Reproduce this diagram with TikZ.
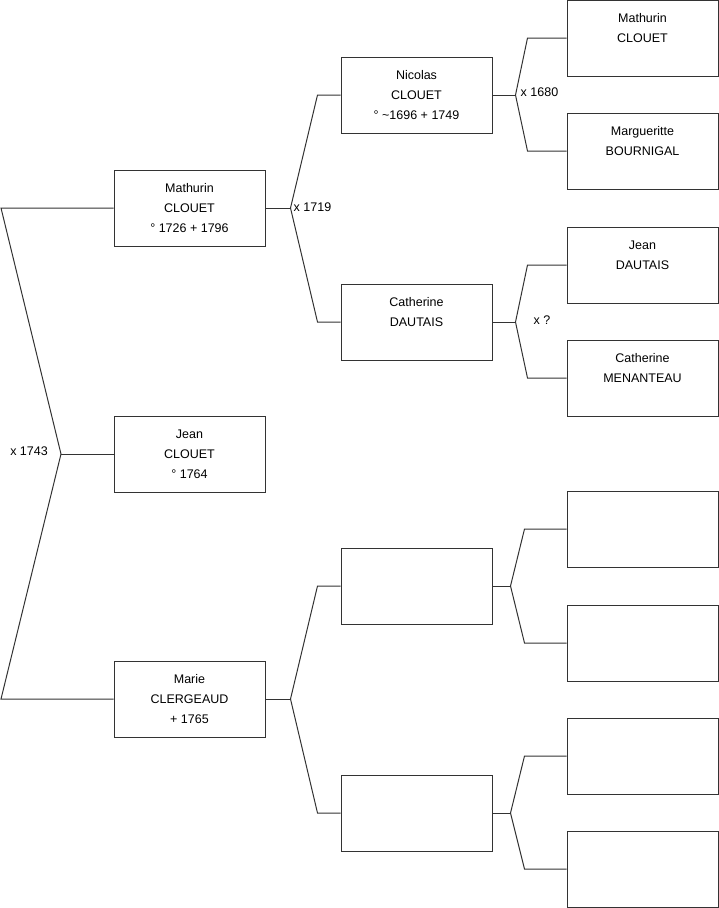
\documentclass[tikz,border=0pt]{standalone}
\usepackage{fontspec}
\setmainfont{Liberation Sans}
\begin{document}
\begin{tikzpicture}[x=1pt, y=-1pt,
    person/.style={draw=black!80, line width=1pt, rectangle, minimum width=151pt, minimum height=76pt, inner sep=0pt, align=center, font=\fontsize{12.5}{20}\selectfont},
    branch/.style={draw=black!80, line width=1pt},
    union/.style={inner sep=0pt, font=\fontsize{12.5}{15}\selectfont}]
    \useasboundingbox (0,0) rectangle (719,908);

    % Generation 1 and 2
    \node[person] (jean) at (189.5,454) {Jean\\CLOUET\\° 1764};
    \node[person] (mathurin) at (189.5,208) {Mathurin\\CLOUET\\° 1726 + 1796};
    \node[person] (marie) at (189.5,699) {Marie\\CLERGEAUD\\+ 1765};

    % Generation 3
    \node[person] (nicolas) at (416.5,95) {Nicolas\\CLOUET\\° \textasciitilde1696 + 1749};
    \node[person] (catherine) at (416.5,322) {Catherine\\DAUTAIS\\\mbox{}};
    \node[person] (father2) at (416.5,586) {};
    \node[person] (mother2) at (416.5,813) {};

    % Generation 4
    \node[person] (mathurin2) at (642.5,38) {Mathurin\\CLOUET\\\mbox{}};
    \node[person] (marguerite) at (642.5,151) {Margueritte\\BOURNIGAL\\\mbox{}};
    \node[person] (jean2) at (642.5,265) {Jean\\DAUTAIS\\\mbox{}};
    \node[person] (catherine2) at (642.5,378) {Catherine\\MENANTEAU\\\mbox{}};
    \node[person] (ff) at (642.5,529) {};
    \node[person] (fm) at (642.5,643) {};
    \node[person] (mf) at (642.5,756) {};
    \node[person] (mm) at (642.5,869) {};

    % Parents of Jean
    \coordinate (u0) at (61,454);
    \coordinate (u0top) at (1,208);
    \coordinate (u0bot) at (1,699);
    \draw[branch] (mathurin.west) -- (u0top) -- (u0) -- (u0bot) -- (marie.west);
    \draw[branch] (u0) -- (jean.west);
    \node[union, anchor=east] (x1743) at ([xshift=-13pt, yshift=3pt]u0) {x 1743};

    % Parents of Mathurin
    \draw[branch] (mathurin.east) -- ++(25,0) coordinate (u1);
    \draw[branch] (nicolas.west) -- ([xshift=-23pt]nicolas.west) -- (u1) -- ([xshift=-23pt]catherine.west) -- (catherine.west);
    \node[union, anchor=west] (x1719) at ([xshift=3pt, yshift=1pt]u1) {x 1719};

    % Parents of Marie
    \draw[branch] (marie.east) -- ++(25,0) coordinate (u2);
    \draw[branch] (father2.west) -- ([xshift=-23pt]father2.west) -- (u2) -- ([xshift=-23pt]mother2.west) -- (mother2.west);

    % Parents of Nicolas
    \draw[branch] (nicolas.east) -- ++(23,0) coordinate (u3);
    \draw[branch] (mathurin2.west) -- ([xshift=-39pt]mathurin2.west) -- (u3) -- ([xshift=-39pt]marguerite.west) -- (marguerite.west);
    \node[union, anchor=west] (x1680) at ([xshift=5pt, yshift=3pt]u3) {x 1680};

    % Parents of Catherine
    \draw[branch] (catherine.east) -- ++(23,0) coordinate (u4);
    \draw[branch] (jean2.west) -- ([xshift=-39pt]jean2.west) -- (u4) -- ([xshift=-39pt]catherine2.west) -- (catherine2.west);
    \node[union, anchor=west] (xunknown) at ([xshift=18pt, yshift=2pt]u4) {x ?};

    % Unknown grandparents
    \draw[branch] (father2.east) -- ++(18,0) coordinate (u5);
    \draw[branch] (ff.west) -- ([xshift=-42pt]ff.west) -- (u5) -- ([xshift=-42pt]fm.west) -- (fm.west);
    \draw[branch] (mother2.east) -- ++(18,0) coordinate (u6);
    \draw[branch] (mf.west) -- ([xshift=-42pt]mf.west) -- (u6) -- ([xshift=-42pt]mm.west) -- (mm.west);
\end{tikzpicture}
\end{document}
